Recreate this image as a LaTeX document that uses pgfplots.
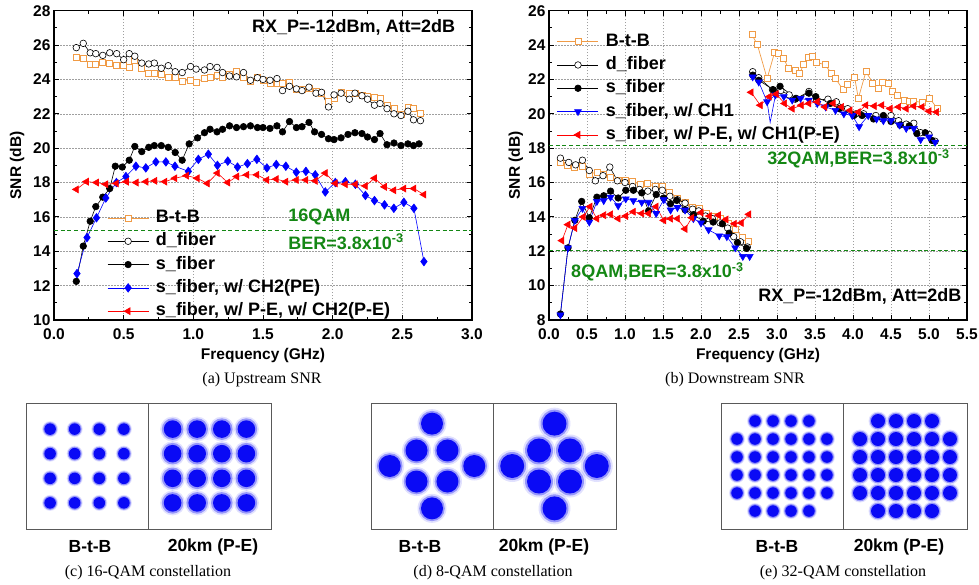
\documentclass[border=0pt]{standalone}
\usepackage{fontspec}
\setmainfont{Liberation Sans}
\newfontfamily\capfont{Liberation Serif}
\usepackage{pgfplots}
\pgfplotsset{compat=1.18}
\usepackage{pgfplotstable}

\definecolor{btb}{RGB}{240,155,70}
\definecolor{bergreen}{RGB}{20,135,20}
\definecolor{qamblue}{RGB}{10,10,245}
\newcommand\fs[1]{\fontsize{#1bp}{#1bp}\selectfont}

\tikzset{
  bertext/.style={text=bergreen, font=\fs{18}\bfseries, inner sep=0pt},
}

\pgfplotsset{
  snr/.style={scale only axis, width=418bp, height=309.3bp, anchor=south west,
    tick align=inside, major tick length=5bp, minor tick length=3bp,
    minor x tick num=1, minor y tick num=1,
    grid=major, grid style={gray!75, dash pattern=on 1.5bp off 1.5bp, line width=0.6bp},
    axis line style={line width=1.3bp}, tick style={black, line width=0.9bp},
    ticklabel style={font=\fs{15.5}\bfseries},
    /pgf/number format/assume math mode=true,
    xticklabel style={yshift=-5bp, /pgf/number format/.cd, fixed, fixed zerofill, precision=1},
    yticklabel style={/pgf/number format/.cd, fixed, precision=0},
    label style={font=\fs{15.5}\bfseries},
    xlabel={Frequency (GHz)}, ylabel={SNR (dB)},
    xlabel style={at={(axis description cs:0.5,-0.115)}, anchor=center},
    legend cell align=left,
    legend image code/.code={\draw[mark repeat=2,mark phase=2,##1] plot coordinates {(0bp,0bp)(20.5bp,0bp)(41bp,0bp)};},
    legend style={draw=none, fill=none, anchor=north west, font=\fs{18}\bfseries,
      inner sep=0pt, row sep=6.3bp, column sep=7bp,
      nodes={inner sep=0pt, text height=13bp, text depth=4bp}},
  },
  sbtb/.style={btb, line width=0.7bp, mark=square*, mark size=3bp, mark options={fill=white, solid}},
  sdf/.style={black, line width=0.6bp, mark=*, mark size=3.3bp, mark options={fill=white, solid}},
  ssf/.style={black, line width=0.6bp, mark=*, mark size=3.3bp, mark options={fill=black, solid}},
  sdia/.style={blue, line width=0.6bp, mark=diamond*, mark size=4.3bp, mark options={fill=blue, solid}},
  sdown/.style={blue, line width=0.6bp, mark=triangle*, mark size=4bp, mark options={fill=blue, rotate=180, solid}},
  sleft/.style={red, line width=0.6bp, mark=triangle*, mark size=4bp, mark options={fill=red, rotate=90, solid}},
  berline/.style={bergreen, line width=1.3bp, dash pattern=on 4bp off 2.7bp},
  const/.style={scale only axis, anchor=south west, width=122bp, height=126bp,
    xtick=\empty, ytick=\empty, axis line style={draw=gray!70!black, line width=0.8bp}},
  blob/.style 2 args={only marks, draw=none, mark=*, mark size=#1,
    mark options={draw=none, draw opacity=0, fill=qamblue, fill opacity=#2}},
}

\pgfplotstableread{
x y
-3 -3
-3 -1
-3 1
-3 3
-1 -3
-1 -1
-1 1
-1 3
1 -3
1 -1
1 1
1 3
3 -3
3 -1
3 1
3 3
}\qamsixteen

\pgfplotstableread{
x y
1 1
1 -1
-1 1
-1 -1
0 2.73
0 -2.73
2.73 0
-2.73 0
}\qameight

\pgfplotstableread{
x y
-3 5
-1 5
1 5
3 5
-5 3
-3 3
-1 3
1 3
3 3
5 3
-5 1
-3 1
-1 1
1 1
3 1
5 1
-5 -1
-3 -1
-1 -1
1 -1
3 -1
5 -1
-5 -3
-3 -3
-1 -3
1 -3
3 -3
5 -3
-3 -5
-1 -5
1 -5
3 -5
}\qamthirtytwo

\begin{document}
\begin{tikzpicture}
\useasboundingbox (0,0) rectangle (979bp,-585bp);

% ---------------- (a) upstream
\begin{axis}[snr, at={(54bp,-320bp)},
  xmin=0, xmax=3, ymin=10, ymax=28,
  xtick={0,0.5,...,3}, ytick={10,12,...,28},
  ylabel style={at={(axis description cs:-0.0885,0.5)}, anchor=center},
  legend style={at={(0.127,0.358)}}]
\addplot[sbtb] coordinates {(0.16,25.3)(0.21,25.25)(0.26,24.9)(0.30,24.85)(0.35,25.0)(0.40,24.95)(0.45,24.8)(0.50,24.8)(0.54,24.7)(0.58,25.1)(0.63,24.65)(0.68,24.35)(0.72,24.35)(0.77,24.3)(0.82,24.1)(0.87,24.15)(0.92,23.9)(0.98,23.95)(1.02,23.85)(1.08,24.05)(1.12,24.1)(1.17,24.25)(1.21,24.15)(1.26,24.3)(1.31,24.45)(1.36,24.15)(1.41,23.9)(1.46,24.1)(1.50,23.95)(1.55,23.75)(1.60,23.75)(1.64,23.8)(1.69,23.85)(1.74,23.45)(1.78,23.4)(1.83,23.5)(1.88,23.3)(1.92,23.2)(1.97,22.7)(2.01,22.9)(2.06,23.25)(2.12,23.2)(2.16,23.2)(2.21,23.1)(2.25,23.0)(2.30,22.95)(2.34,22.9)(2.39,22.5)(2.44,22.3)(2.49,21.95)(2.54,22.4)(2.58,22.3)(2.63,22.05)};
\addlegendentry{B-t-B}
\addplot[sdf] coordinates {(0.16,25.85)(0.21,26.1)(0.26,25.55)(0.30,25.5)(0.35,25.4)(0.40,25.55)(0.45,25.5)(0.50,25.15)(0.54,25.5)(0.58,25.35)(0.63,24.95)(0.68,24.9)(0.72,24.95)(0.77,24.65)(0.82,24.8)(0.87,24.45)(0.92,24.4)(0.98,24.75)(1.02,24.6)(1.08,24.55)(1.12,24.75)(1.17,24.7)(1.21,24.4)(1.26,24.2)(1.31,24.15)(1.36,24.4)(1.41,23.95)(1.46,24.1)(1.50,24.0)(1.55,23.95)(1.60,24.05)(1.64,23.35)(1.69,23.6)(1.74,23.45)(1.78,23.35)(1.83,23.55)(1.88,23.2)(1.92,23.25)(1.97,22.4)(2.01,23.1)(2.06,23.2)(2.12,22.85)(2.16,23.2)(2.21,23.05)(2.25,22.85)(2.30,22.5)(2.34,22.6)(2.39,22.3)(2.44,22.0)(2.49,21.9)(2.54,22.15)(2.58,21.65)(2.63,21.6)};
\addlegendentry{d\_fiber}
\addplot[ssf] coordinates {(0.16,12.25)(0.21,14.3)(0.26,15.75)(0.30,16.6)(0.35,17.15)(0.40,17.65)(0.44,18.95)(0.49,18.9)(0.54,19.3)(0.58,20.1)(0.63,19.8)(0.68,20.05)(0.72,20.15)(0.77,20.15)(0.82,20.05)(0.87,19.75)(0.92,19.3)(0.97,20.25)(1.03,20.6)(1.08,20.9)(1.12,21.1)(1.17,20.95)(1.21,21.1)(1.26,21.3)(1.31,21.2)(1.36,21.25)(1.41,21.3)(1.46,21.2)(1.50,21.2)(1.55,21.15)(1.60,21.3)(1.64,20.95)(1.69,21.55)(1.74,21.2)(1.78,21.25)(1.83,21.5)(1.87,20.95)(1.92,20.8)(1.97,20.55)(2.01,20.5)(2.06,20.6)(2.11,20.8)(2.16,20.9)(2.21,20.85)(2.25,20.65)(2.30,20.5)(2.34,20.85)(2.39,20.2)(2.44,20.3)(2.49,20.15)(2.54,20.25)(2.58,20.15)(2.62,20.25)};
\addlegendentry{s\_fiber}
\addplot[sdia] coordinates {(0.165,12.7)(0.237,14.8)(0.305,15.95)(0.372,17.1)(0.448,18.0)(0.516,18.35)(0.588,18.95)(0.659,18.85)(0.731,19.2)(0.803,19.2)(0.868,18.95)(0.964,18.65)(1.036,19.35)(1.108,19.65)(1.173,19.0)(1.247,19.25)(1.317,18.9)(1.388,19.1)(1.456,19.35)(1.528,18.85)(1.595,19.05)(1.664,18.95)(1.739,18.6)(1.808,18.65)(1.875,18.45)(1.947,17.45)(2.019,18.0)(2.091,18.05)(2.163,17.9)(2.235,17.25)(2.300,16.95)(2.372,16.7)(2.439,16.5)(2.511,16.85)(2.583,16.5)(2.655,13.4)};
\addlegendentry{s\_fiber, w/ CH2(PE)}
\addplot[sleft] coordinates {(0.161,17.6)(0.233,18.05)(0.305,18.0)(0.372,17.9)(0.448,17.95)(0.52,18.05)(0.59,18.0)(0.66,18.05)(0.724,18.1)(0.796,18.05)(0.868,18.25)(0.952,18.4)(1.028,18.25)(1.10,17.95)(1.173,18.55)(1.247,18.0)(1.312,18.35)(1.384,18.45)(1.456,18.45)(1.528,18.15)(1.595,18.2)(1.664,18.05)(1.739,18.15)(1.808,18.15)(1.875,18.1)(1.947,18.55)(2.019,17.95)(2.091,17.9)(2.163,17.9)(2.235,17.8)(2.30,18.25)(2.372,17.75)(2.439,17.55)(2.511,17.65)(2.583,17.65)(2.655,17.3)};
\addlegendentry{s\_fiber, w/ P-E, w/ CH2(P-E)}
\addplot[berline, forget plot] coordinates {(0,15.2)(3,15.2)};
\node[bertext, anchor=west] at (axis cs:1.68,16.0) {16QAM};
\node[bertext, anchor=west] at (axis cs:1.68,14.55) {BER=3.8x10\textsuperscript{-3}};
\node[font=\fs{18}\bfseries, inner sep=0pt, anchor=east] at (axis cs:2.88,27.05) {RX\_P=-12dBm, Att=2dB};
\end{axis}

% ---------------- (b) downstream
\begin{axis}[snr, at={(549bp,-320bp)},
  xmin=0, xmax=5.5, ymin=8, ymax=26,
  xtick={0,0.5,...,5.5}, ytick={8,10,...,26},
  ylabel style={at={(axis description cs:-0.079,0.5)}, anchor=center},
  legend style={at={(0.019,0.928)}}]
\addplot[sbtb] coordinates {(0.15,17.15)(0.24,17.0)(0.34,16.9)(0.44,16.95)(0.53,16.5)(0.63,16.6)(0.72,16.45)(0.81,16.3)(0.91,16.1)(1.0,16.15)(1.1,16.05)(1.2,15.9)(1.3,15.95)(1.4,15.75)(1.49,15.8)(1.59,15.45)(1.69,15.1)(1.79,14.85)(1.89,14.55)(1.98,14.5)(2.07,14.2)(2.17,14.05)(2.26,13.9)(2.36,13.6)(2.45,13.3)(2.55,12.8)(2.62,12.6)};
\addlegendentry{B-t-B}
\addplot[sdf] coordinates {(0.15,17.42)(0.26,17.17)(0.35,17.03)(0.44,17.3)(0.53,16.7)(0.61,16.1)(0.71,16.4)(0.80,16.9)(0.90,16.1)(1.0,16.0)(1.10,15.77)(1.19,15.6)(1.30,15.5)(1.40,15.6)(1.49,15.55)(1.59,15.2)(1.69,15.0)(1.79,14.8)(1.89,14.45)(1.97,14.35)(2.06,14.05)(2.15,13.9)(2.25,13.65)(2.35,13.35)(2.43,12.85)(2.52,12.55)(2.61,12.25)};
\addlegendentry{d\_fiber}
\addplot[ssf] coordinates {(0.15,8.35)(0.25,12.2)(0.34,13.8)(0.43,14.9)(0.53,13.95)(0.63,15.15)(0.72,15.23)(0.81,15.5)(0.91,15.1)(1.01,15.55)(1.11,15.55)(1.22,15.4)(1.31,14.35)(1.41,15.3)(1.51,15.1)(1.6,14.77)(1.68,14.96)(1.79,14.42)(1.9,14.13)(2.03,13.75)(2.16,13.7)(2.28,13.6)(2.37,13.05)(2.48,12.5)(2.6,12.17)};
\addlegendentry{s\_fiber}
\addplot[sdown] coordinates {(0.15,8.3)(0.25,12.2)(0.34,13.8)(0.44,14.5)(0.53,13.7)(0.63,14.9)(0.72,14.95)(0.81,15.15)(0.91,14.65)(1.01,15.05)(1.11,14.95)(1.22,14.85)(1.31,14.85)(1.41,14.2)(1.51,15.0)(1.6,14.4)(1.69,14.55)(1.79,14.4)(1.9,13.9)(2.0,13.65)(2.1,13.25)(2.24,12.9)(2.34,12.85)(2.45,12.2)(2.55,11.7)(2.64,11.7)};
\addlegendentry{s\_fiber, w/ CH1}
\addplot[sleft] coordinates {(0.17,12.62)(0.25,13.55)(0.34,13.35)(0.45,14.0)(0.54,14.6)(0.63,13.9)(0.72,14.1)(0.81,14.15)(0.91,13.9)(1.01,14.05)(1.11,14.3)(1.22,14.2)(1.31,14.2)(1.41,14.6)(1.51,13.8)(1.6,13.9)(1.69,13.9)(1.79,13.3)(1.88,13.95)(2.0,14.25)(2.11,14.05)(2.23,14.1)(2.33,13.85)(2.44,13.6)(2.53,13.65)(2.63,14.15)};
\addlegendentry{s\_fiber, w/ P-E, w/ CH1(P-E)}
% 32QAM group
\addplot[sbtb, forget plot] coordinates {(2.67,24.6)(2.74,24.05)(2.87,22.05)(2.97,23.6)(3.02,23.5)(3.09,23.2)(3.15,22.65)(3.24,22.55)(3.30,22.35)(3.35,22.9)(3.41,23.3)(3.46,23.35)(3.52,23.0)(3.63,22.85)(3.72,22.35)(3.77,22.05)(3.87,21.4)(3.93,21.7)(4.02,22.15)(4.07,20.9)(4.17,22.45)(4.26,21.8)(4.33,21.5)(4.38,21.85)(4.46,21.75)(4.52,21.3)(4.59,21.05)(4.67,20.8)(4.74,20.7)(4.8,20.75)(4.91,20.65)(5.01,20.9)(5.11,20.3)};
\addplot[sdf, forget plot] coordinates {(2.68,22.45)(2.76,22.1)(2.94,21.4)(3.05,21.35)(3.16,21.1)(3.24,20.85)(3.42,21.3)(3.52,20.8)(3.67,20.85)(3.78,20.7)(3.93,20.3)(4.04,20.0)(4.14,20.0)(4.3,19.9)(4.39,19.7)(4.5,19.9)(4.6,19.6)(4.7,19.4)(4.8,19.45)(4.89,18.9)(5.0,18.8)(5.08,18.4)};
\addplot[ssf, forget plot] coordinates {(2.68,22.25)(2.76,21.95)(2.95,21.4)(3.04,21.6)(3.25,20.9)(3.42,21.2)(3.51,21.0)(3.7,20.6)(3.82,20.3)(4.01,19.9)(4.12,19.9)(4.27,19.7)(4.4,19.9)(4.5,19.55)(4.62,19.35)(4.74,19.3)(4.84,18.85)(4.95,18.9)(5.04,18.45)};
\addplot[blue, line width=0.6bp, forget plot] coordinates {(2.87,20.7)(2.91,19.5)(2.98,21.1)};
\addplot[sdown, forget plot] coordinates {(2.68,22.15)(2.76,21.85)(2.87,20.7)(2.98,21.1)(3.09,21.0)(3.2,20.8)(3.31,20.9)(3.42,20.8)(3.53,20.6)(3.64,20.4)(3.77,20.2)(3.88,20.0)(3.99,19.9)(4.08,19.25)(4.2,19.9)(4.31,19.7)(4.4,19.6)(4.5,19.6)(4.61,19.35)(4.7,19.15)(4.8,19.15)(4.89,18.5)(5.0,18.65)(5.08,18.35)};
\addplot[sleft, forget plot] coordinates {(2.66,21.25)(2.78,20.5)(2.9,21.0)(2.99,21.15)(3.1,20.6)(3.2,20.3)(3.32,20.5)(3.42,20.6)(3.53,20.7)(3.63,20.4)(3.74,20.6)(3.85,20.4)(3.96,20.2)(4.07,20.1)(4.17,20.5)(4.28,20.45)(4.38,20.5)(4.49,20.3)(4.6,20.4)(4.7,20.3)(4.8,20.45)(4.91,20.4)(5.0,20.15)(5.1,20.1)};
\addplot[berline, forget plot] coordinates {(0,18.16)(5.5,18.16)};
\addplot[berline, forget plot] coordinates {(0,12.05)(5.5,12.05)};
\node[bertext, anchor=west] at (axis cs:2.87,17.36) {32QAM,BER=3.8x10\textsuperscript{-3}};
\node[bertext, anchor=west] at (axis cs:0.29,10.8) {8QAM,BER=3.8x10\textsuperscript{-3}};
\node[font=\fs{18}\bfseries, inner sep=0pt, anchor=east] at (axis cs:5.43,9.36) {RX\_P=-12dBm, Att=2dB};
\end{axis}

% ---------------- constellations (outer fuzz, inner fuzz, solid core)
% (c) 16-QAM
\begin{axis}[const, at={(26bp,-529bp)}, xmin=-4.96, xmax=4.96, ymin=-5.12, ymax=5.12]
\addplot[blob={8bp}{0.12}] table {\qamsixteen};
\addplot[blob={7bp}{0.35}] table {\qamsixteen};
\addplot[blob={5.8bp}{1}] table {\qamsixteen};
\end{axis}
\begin{axis}[const, at={(148bp,-529bp)}, width=123bp, xmin=-5, xmax=5, ymin=-5.12, ymax=5.12]
\addplot[blob={12.5bp}{0.12}] table {\qamsixteen};
\addplot[blob={10.8bp}{0.35}] table {\qamsixteen};
\addplot[blob={8.8bp}{1}] table {\qamsixteen};
\end{axis}
% (d) 8-QAM
\begin{axis}[const, at={(371bp,-529bp)}, xmin=-3.94, xmax=3.94, ymin=-4.06, ymax=4.06]
\addplot[blob={14.5bp}{0.12}] table {\qameight};
\addplot[blob={12.8bp}{0.35}] table {\qameight};
\addplot[blob={11bp}{1}] table {\qameight};
\end{axis}
\begin{axis}[const, at={(493bp,-529bp)}, width=123bp, xmin=-3.97, xmax=3.97, ymin=-4.06, ymax=4.06]
\addplot[blob={16bp}{0.12}] table {\qameight};
\addplot[blob={14bp}{0.35}] table {\qameight};
\addplot[blob={12bp}{1}] table {\qameight};
\end{axis}
% (e) 32-QAM
\begin{axis}[const, at={(721bp,-529bp)}, xmin=-6.78, xmax=6.78, ymin=-7.0, ymax=7.0]
\addplot[blob={8bp}{0.12}] table {\qamthirtytwo};
\addplot[blob={7bp}{0.35}] table {\qamthirtytwo};
\addplot[blob={5.8bp}{1}] table {\qamthirtytwo};
\end{axis}
\begin{axis}[const, at={(843bp,-529bp)}, width=124bp, xmin=-6.89, xmax=6.89, ymin=-7.0, ymax=7.0]
\addplot[blob={9.5bp}{0.12}] table {\qamthirtytwo};
\addplot[blob={8.3bp}{0.35}] table {\qamthirtytwo};
\addplot[blob={7bp}{1}] table {\qamthirtytwo};
\end{axis}

% labels under constellations
\begin{scope}[every node/.style={font=\fs{17.5}\bfseries, inner sep=0pt}]
\node at (90bp,-547bp) {B-t-B};
\node at (213bp,-547bp) {20km (P-E)};
\node at (420bp,-547bp) {B-t-B};
\node at (544bp,-547bp) {20km (P-E)};
\node at (777bp,-547bp) {B-t-B};
\node at (899bp,-547bp) {20km (P-E)};
\end{scope}

% captions
\begin{scope}[every node/.style={font=\capfont\fs{16}, inner sep=0pt}]
\node at (262bp,-380bp) {(a) Upstream SNR};
\node at (735bp,-380bp) {(b) Downstream SNR};
\node at (148bp,-573bp) {(c) 16-QAM constellation};
\node at (493bp,-573bp) {(d) 8-QAM constellation};
\node at (843bp,-573bp) {(e) 32-QAM constellation};
\end{scope}
\end{tikzpicture}
\end{document}
